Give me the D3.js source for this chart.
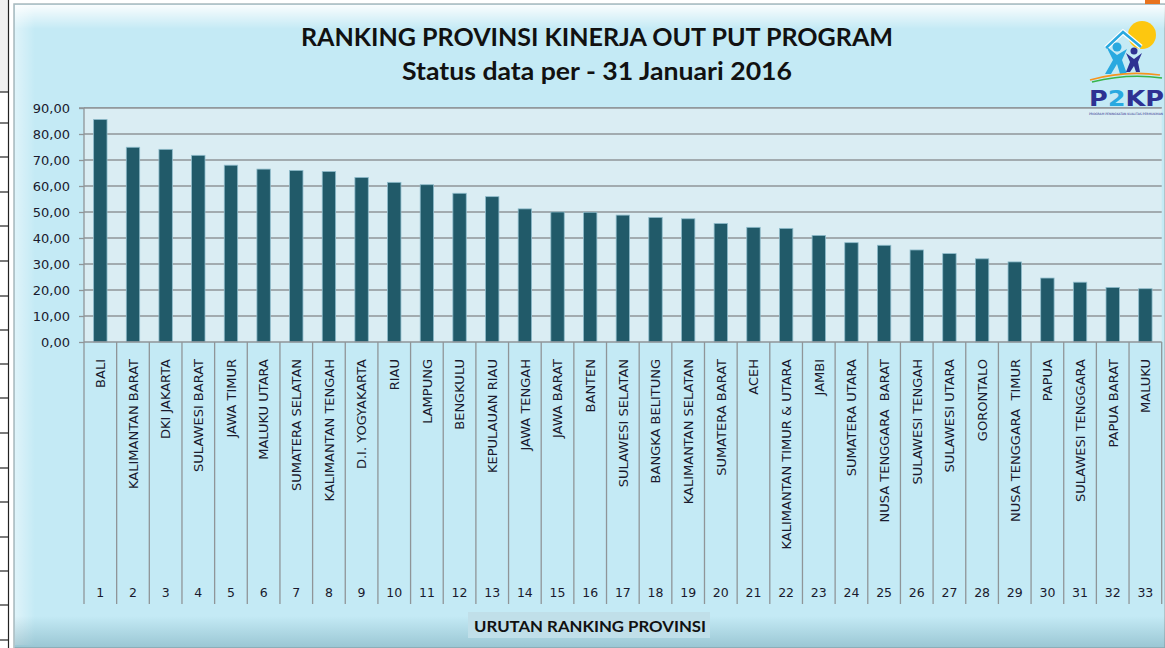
<!DOCTYPE html>
<html>
<head>
<meta charset="utf-8">
<script src="https://cdn.jsdelivr.net/npm/d3@7"></script>
<style>
  html, body { margin: 0; padding: 0; background: #ffffff; }
  svg { display: block; }
</style>
</head>
<body>
<svg id="chart" width="1165" height="648"></svg>
<script>
// ---- data ----
const categories = ["BALI","KALIMANTAN BARAT","DKI JAKARTA","SULAWESI BARAT","JAWA TIMUR","MALUKU UTARA","SUMATERA SELATAN","KALIMANTAN TENGAH","D.I. YOGYAKARTA","RIAU","LAMPUNG","BENGKULU","KEPULAUAN RIAU","JAWA TENGAH","JAWA BARAT","BANTEN","SULAWESI SELATAN","BANGKA BELITUNG","KALIMANTAN SELATAN","SUMATERA BARAT","ACEH","KALIMANTAN TIMUR & UTARA","JAMBI","SUMATERA UTARA","NUSA TENGGARA  BARAT","SULAWESI TENGAH","SULAWESI UTARA","GORONTALO","NUSA TENGGARA  TIMUR","PAPUA","SULAWESI TENGGARA","PAPUA BARAT","MALUKU"];
const ranks = ["1","2","3","4","5","6","7","8","9","10","11","12","13","14","15","16","17","18","19","20","21","22","23","24","25","26","27","28","29","30","31","32","33"];
const values = [85.6,74.9,74.1,71.8,68.0,66.5,66.0,65.6,63.3,61.4,60.5,57.2,55.9,51.2,50.0,49.9,48.8,47.9,47.4,45.6,44.1,43.7,41.0,38.2,37.2,35.4,34.0,32.0,30.8,24.6,23.0,21.0,20.5];
const yTicks = [0,10,20,30,40,50,60,70,80,90];
const titleText = "RANKING PROVINSI KINERJA OUT PUT PROGRAM";
const subtitleText = "Status data per - 31 Januari 2016";
const xAxisTitle = "URUTAN RANKING PROVINSI";

const svg = d3.select("#chart");
const defs = svg.append("defs");

// ---- spreadsheet strip on the left ----
svg.append("rect").attr("x",0).attr("y",0).attr("width",9).attr("height",92).attr("fill","#f0f0f0");
svg.append("rect").attr("x",0).attr("y",92).attr("width",9).attr("height",556).attr("fill","#ffffff");
const rowLines = [92,123,157,192,226,261,296,330,364,398,433,468,502,537,571,605,640];
svg.selectAll("line.row").data(rowLines).enter().append("line")
  .attr("x1",0).attr("x2",9).attr("y1",d=>d).attr("y2",d=>d)
  .attr("stroke","#222").attr("stroke-width",1.2);
svg.append("line").attr("x1",8.5).attr("x2",8.5).attr("y1",0).attr("y2",648).attr("stroke","#222").attr("stroke-width",1.2);

// ---- chart background with bevel ----
const cx0 = 14, cy0 = 4;
svg.append("rect").attr("x",cx0).attr("y",cy0).attr("width",1165-cx0).attr("height",648-cy0)
  .attr("fill","#c4eaf5").attr("stroke","#a9b9bd").attr("stroke-width",1.5);

const gTop = defs.append("linearGradient").attr("id","gTop").attr("x1",0).attr("y1",0).attr("x2",0).attr("y2",1);
gTop.append("stop").attr("offset","0%").attr("stop-color","#ffffff").attr("stop-opacity",0.9);
gTop.append("stop").attr("offset","100%").attr("stop-color","#ffffff").attr("stop-opacity",0);
const gLeft = defs.append("linearGradient").attr("id","gLeft").attr("x1",0).attr("y1",0).attr("x2",1).attr("y2",0);
gLeft.append("stop").attr("offset","0%").attr("stop-color","#ffffff").attr("stop-opacity",0.45);
gLeft.append("stop").attr("offset","100%").attr("stop-color","#ffffff").attr("stop-opacity",0);
const gBot = defs.append("linearGradient").attr("id","gBot").attr("x1",0).attr("y1",0).attr("x2",0).attr("y2",1);
gBot.append("stop").attr("offset","0%").attr("stop-color","#4a8394").attr("stop-opacity",0);
gBot.append("stop").attr("offset","100%").attr("stop-color","#4a8394").attr("stop-opacity",0.35);

svg.append("rect").attr("x",cx0+1).attr("y",cy0+1).attr("width",1165-cx0).attr("height",24).attr("fill","url(#gTop)");
svg.append("rect").attr("x",cx0+1).attr("y",cy0+1).attr("width",20).attr("height",640).attr("fill","url(#gLeft)");
svg.append("rect").attr("x",cx0+1).attr("y",616).attr("width",1165-cx0).attr("height",32).attr("fill","url(#gBot)");

// orange mark top right
svg.append("rect").attr("x",1145).attr("y",0).attr("width",15).attr("height",4).attr("fill","#e8731e");

// ---- scales ----
const plotL = 84, plotR = 1161.7, plotT = 108, plotB = 342;
const x = d3.scaleBand().domain(ranks).range([plotL, plotR]).padding(0);
const y = d3.scaleLinear().domain([0, 90]).range([plotB, plotT]);
const barW = x.bandwidth() * 0.41;
const fmt = v => d3.format(".2f")(v).replace(".", ",");

// plot area
svg.append("rect").attr("x",plotL).attr("y",plotT-1).attr("width",plotR-plotL).attr("height",plotB-plotT+1)
  .attr("fill","#daedf3");
svg.append("line").attr("x1",plotL).attr("x2",plotR).attr("y1",plotT-0.5).attr("y2",plotT-0.5)
  .attr("stroke","#9aa6aa").attr("stroke-width",1.2);

// gridlines
svg.selectAll("line.grid").data(yTicks.filter(t=>t>0)).enter().append("line")
  .attr("x1",plotL).attr("x2",plotR).attr("y1",d=>y(d)).attr("y2",d=>y(d))
  .attr("stroke","#8f9598").attr("stroke-width",1.3);

// y axis
const yAxis = d3.axisLeft(y).tickValues(yTicks).tickFormat(fmt).tickSize(5).tickPadding(9);
const gy = svg.append("g").attr("transform",`translate(${plotL},0)`).call(yAxis);
gy.select(".domain").attr("stroke","#8f9598").attr("stroke-width",1.3).attr("d",`M-5,${plotT}H0V${plotB}`);
gy.selectAll(".tick line").attr("stroke","#8f9598").attr("stroke-width",1.3);
gy.selectAll(".tick text").attr("fill","#1a1a2e").attr("font-family","DejaVu Sans, sans-serif").attr("font-size","13px");

// bars
svg.selectAll("rect.bar").data(values).enter().append("rect")
  .attr("class","bar")
  .attr("x",(d,i)=>x(ranks[i]) + (x.bandwidth()-barW)/2)
  .attr("y",d=>y(d))
  .attr("width",barW)
  .attr("height",d=>plotB - y(d))
  .attr("fill","#215a69")
  .attr("stroke","#8fbccb").attr("stroke-width",0.8);

// x axis line
svg.append("line").attr("x1",plotL).attr("x2",plotR).attr("y1",plotB).attr("y2",plotB)
  .attr("stroke","#8f9598").attr("stroke-width",1.5);

// category separators
const seps = ranks.map(r => x(r)).concat([plotR]);
svg.selectAll("line.sep").data(seps).enter().append("line")
  .attr("x1",d=>d).attr("x2",d=>d).attr("y1",plotB).attr("y2",604)
  .attr("stroke","#8f9598").attr("stroke-width",1.3);

// category labels (rotated)
svg.selectAll("text.cat").data(categories).enter().append("text")
  .attr("transform",(d,i)=>`translate(${x(ranks[i]) + x.bandwidth()/2 + 4.8},359) rotate(-90)`)
  .attr("text-anchor","end")
  .attr("font-family","DejaVu Sans, sans-serif")
  .attr("font-size","13px")
  .attr("fill","#1a1a2e")
  .style("white-space","pre")
  .attr("xml:space","preserve")
  .text(d=>d);

// rank numbers
svg.selectAll("text.rank").data(ranks).enter().append("text")
  .attr("x",d=>x(d) + x.bandwidth()/2)
  .attr("y",597)
  .attr("text-anchor","middle")
  .attr("font-family","DejaVu Sans, sans-serif")
  .attr("font-size","12.5px")
  .attr("fill","#1a1a2e")
  .text(d=>d);

// x axis title with box
svg.append("rect").attr("x",468).attr("y",612).attr("width",242).attr("height",26).attr("fill","#c0dfe9");
svg.append("text").attr("x",590).attr("y",632).attr("text-anchor","middle")
  .attr("font-family","Lato, Open Sans, sans-serif").attr("font-weight","bold").attr("font-size","16px")
  .attr("fill","#111").attr("textLength",232).attr("lengthAdjust","spacingAndGlyphs")
  .text(xAxisTitle);

// titles
svg.append("text").attr("x",597).attr("y",46).attr("text-anchor","middle")
  .attr("font-family","Lato, Open Sans, sans-serif").attr("font-weight","bold").attr("font-size","25px")
  .attr("fill","#111").attr("textLength",592).attr("lengthAdjust","spacingAndGlyphs")
  .text(titleText);
svg.append("text").attr("x",597).attr("y",80).attr("text-anchor","middle")
  .attr("font-family","Lato, Open Sans, sans-serif").attr("font-weight","bold").attr("font-size","25px")
  .attr("fill","#111").attr("textLength",390).attr("lengthAdjust","spacingAndGlyphs")
  .text(subtitleText);

// ---- logo (P2KP) ----
const logo = svg.append("g");
logo.append("circle").attr("cx",1142).attr("cy",35).attr("r",14).attr("fill","#fdc70f");
// roof chevrons
logo.append("path").attr("d","M1106,48 L1123,32 L1141,47").attr("fill","none").attr("stroke","#ffffff").attr("stroke-width",5);
logo.append("path").attr("d","M1106,48 L1123,32 L1141,47").attr("fill","none").attr("stroke","#29a9e0").attr("stroke-width",2.5);
// figures
logo.append("circle").attr("cx",1117).attr("cy",47).attr("r",4.5).attr("fill","#29a9e0");
logo.append("path").attr("d","M1106,46 L1117,55 L1127,49 L1122,60 L1127,74 L1120,74 L1117,64 L1111,74 L1105,74 L1113,60 Z").attr("fill","#29a9e0");
logo.append("circle").attr("cx",1134).attr("cy",51).attr("r",3.5).attr("fill","#2e3192");
logo.append("path").attr("d","M1126,53 L1134,59 L1142,53 L1138,62 L1140,72 L1136,72 L1134,66 L1130,72 L1126,72 L1130,62 Z").attr("fill","#2e3192");
// swooshes
logo.append("path").attr("d","M1090,80 Q1125,70 1160,75").attr("fill","none").attr("stroke","#f7941d").attr("stroke-width",1.6);
logo.append("path").attr("d","M1092,82 Q1128,73 1162,78").attr("fill","none").attr("stroke","#39b54a").attr("stroke-width",1.6);
const lt = logo.append("text").attr("x",1089).attr("y",106)
  .attr("font-family","DejaVu Sans, sans-serif").attr("font-weight","bold").attr("font-size","22px")
  .attr("textLength",75).attr("lengthAdjust","spacingAndGlyphs");
lt.append("tspan").attr("fill","#2e3192").text("P");
lt.append("tspan").attr("fill","#29a9e0").text("2");
lt.append("tspan").attr("fill","#2e3192").text("KP");
logo.append("text").attr("x",1089).attr("y",115)
  .attr("font-family","DejaVu Sans, sans-serif").attr("font-size","3px").attr("fill","#2e3192")
  .attr("textLength",74).attr("lengthAdjust","spacingAndGlyphs")
  .text("PROGRAM PENINGKATAN KUALITAS PERMUKIMAN");
</script>
</body>
</html>
